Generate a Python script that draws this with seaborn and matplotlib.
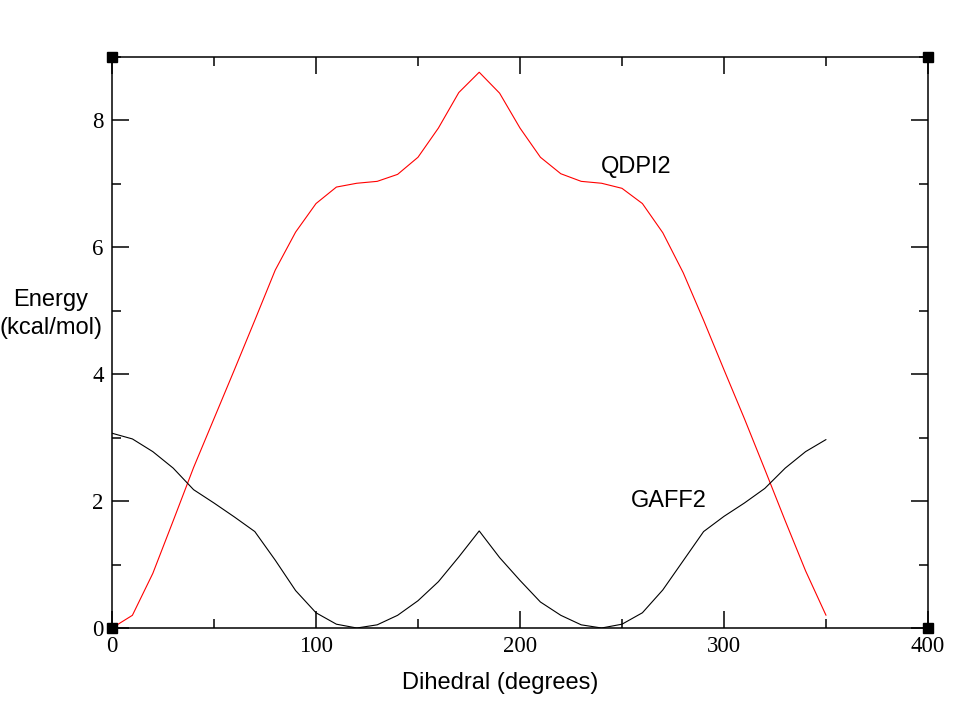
import numpy as np
import pandas as pd
import seaborn as sns
from matplotlib import pyplot as plt
from matplotlib.ticker import MultipleLocator

# Dihedral scan, 0..350 in 10 degree steps
dihedral = list(range(0, 360, 10))

qdpi2 = [0.0, 0.2, 0.86, 1.69, 2.53, 3.30, 4.07, 4.85, 5.64, 6.24,
         6.69, 6.95, 7.01, 7.04, 7.15, 7.42, 7.88, 8.44, 8.76, 8.43,
         7.88, 7.42, 7.16, 7.04, 7.01, 6.93, 6.69, 6.23, 5.60, 4.85,
         4.07, 3.30, 2.50, 1.69, 0.90, 0.20]

gaff2 = [3.07, 2.98, 2.78, 2.52, 2.18, 1.97, 1.75, 1.52, 1.07, 0.59,
         0.24, 0.06, 0.0, 0.05, 0.2, 0.43, 0.73, 1.12, 1.53, 1.11,
         0.75, 0.41, 0.2, 0.05, 0.0, 0.06, 0.24, 0.60, 1.06, 1.52,
         1.76, 1.97, 2.20, 2.52, 2.78, 2.97]

df = pd.DataFrame({
    "Dihedral": dihedral * 2,
    "Energy": qdpi2 + gaff2,
    "Method": ["QDPI2"] * len(dihedral) + ["GAFF2"] * len(dihedral),
})

sns.set_style("ticks")
plt.rcParams["font.family"] = ["Liberation Sans", "DejaVu Sans"]
plt.rcParams["text.color"] = "black"
plt.rcParams["axes.labelcolor"] = "black"
plt.rcParams["xtick.color"] = "black"
plt.rcParams["ytick.color"] = "black"

fig = plt.figure(figsize=(9.6, 7.08), dpi=100)
ax = fig.add_axes([112 / 960, 80 / 708, 816 / 960, 571 / 708])

sns.lineplot(data=df, x="Dihedral", y="Energy", hue="Method",
             palette={"QDPI2": "#ff0000", "GAFF2": "#000000"},
             linewidth=0.8, legend=False, ax=ax)

ax.set_xlim(0, 400)
ax.set_ylim(0, 9)
ax.xaxis.set_major_locator(MultipleLocator(100))
ax.xaxis.set_minor_locator(MultipleLocator(50))
ax.yaxis.set_major_locator(MultipleLocator(2))
ax.yaxis.set_minor_locator(MultipleLocator(1))
ax.tick_params(which="both", direction="in", top=True, right=True,
               width=1.1, color="black")
ax.tick_params(which="major", length=12, pad=6)
ax.tick_params(which="minor", length=6.5)
for lab in ax.get_xticklabels() + ax.get_yticklabels():
    lab.set_fontfamily("Liberation Serif")
    lab.set_fontsize(16.5)
    lab.set_color("black")
for sp in ax.spines.values():
    sp.set_linewidth(1.1)
    sp.set_color("black")

ax.set_xlabel("Dihedral (degrees)", fontsize=17, color="black")
ax.xaxis.set_label_coords((500 - 112) / 816, -44 / 571)
ax.set_ylabel("")
fig.text(51 / 960, 1 - 314 / 708, "Energy\n(kcal/mol)", fontsize=17,
         ha="center", va="center", linespacing=1.3, color="black")

ax.text(257, 7.27, "QDPI2", fontsize=17, ha="center", va="center", color="black")
ax.text(273, 2.0, "GAFF2", fontsize=17, ha="center", va="center", color="black")

# corner handles like the grace canvas
ax.plot([0, 1, 0, 1], [0, 0, 1, 1], "s", color="black", markersize=6.5,
        transform=ax.transAxes, clip_on=False)

fig.savefig("out.png", dpi=100)
